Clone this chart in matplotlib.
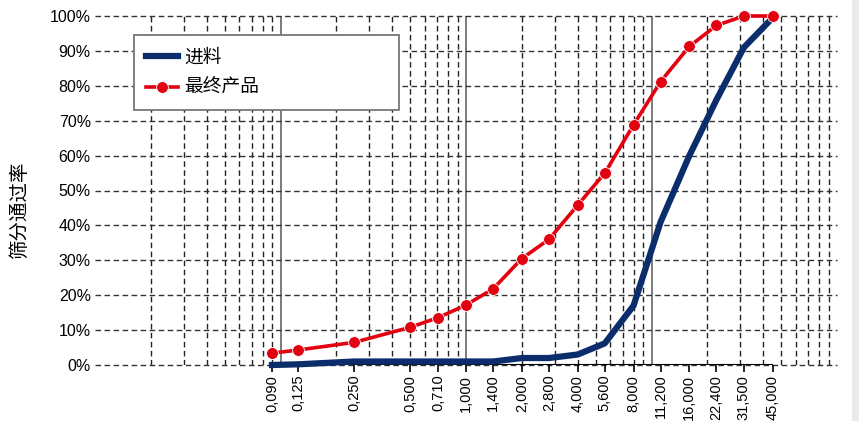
import numpy as np
import matplotlib
matplotlib.use('Agg')
import matplotlib.pyplot as plt
from matplotlib.patches import Rectangle

# 筛孔尺寸 (mm) 与累计通过率 (%)
sieve_sizes = [0.090, 0.125, 0.250, 0.500, 0.710, 1.000, 1.400, 2.000, 2.800,
               4.000, 5.600, 8.000, 11.200, 16.000, 22.400, 31.500, 45.000]
feed_pass = [0, 0.2, 1, 1, 1, 1, 1, 2, 2, 3, 6.2, 17, 41, 60, 76, 91, 99.5]
product_pass = [3.4, 4.3, 6.5, 10.8, 13.6, 17.2, 21.8, 30.5, 36.0,
                45.8, 55.0, 68.8, 81.2, 91.3, 97.3, 100, 100]
series_names = ['进料', '最终产品']
y_label = '筛分通过率'

cjk = ['Noto Sans CJK SC', 'DejaVu Sans']
narrow = ['Liberation Sans Narrow', 'Liberation Sans', 'DejaVu Sans']

fig = plt.figure(figsize=(8.59, 4.21), dpi=100)
fig.patches.append(Rectangle((852 / 859, 0), 7 / 859, 1, transform=fig.transFigure,
                             facecolor='#ebebeb', edgecolor='none'))
ax = fig.add_axes([95 / 859, 56 / 421, 742 / 859, 349 / 421])
ax.set_xscale('log')
ax.set_xlim(0.01, 100)
ax.set_ylim(0, 100)

# 对数网格：十进位实线，其余虚线
for dec in [0.01, 0.1, 1, 10]:
    for m in range(2, 10):
        ax.axvline(dec * m, color='#222222', lw=1, ls=(0, (4, 2.5)), zorder=1)
for dec in [0.1, 1, 10]:
    ax.axvline(dec, color='#666666', lw=1.2, zorder=1)
for yv in range(0, 101, 10):
    ax.axhline(yv, color='#333333', lw=1, ls=(0, (4, 2.5)), zorder=1, clip_on=False)

# 底部坐标轴只覆盖筛孔范围
ax.hlines(0, sieve_sizes[0], sieve_sizes[-1], color='black', lw=1.5, zorder=2)

ax.plot(sieve_sizes, feed_pass, color='#0c2d6b', lw=4.5, label=series_names[0],
        solid_joinstyle='round', zorder=4, clip_on=False)
ax.plot(sieve_sizes, product_pass, color='#e3000f', lw=2.6, marker='o', ms=8.5,
        mec='white', mew=0.6, label=series_names[1], zorder=5, clip_on=False)

for s in ['left', 'right', 'top', 'bottom']:
    ax.spines[s].set_visible(False)

ax.set_xticks(sieve_sizes)
ax.set_xticklabels([f'{v:.3f}'.replace('.', ',') for v in sieve_sizes],
                   rotation=90, fontsize=10.5, family=narrow)
ax.xaxis.set_minor_locator(matplotlib.ticker.NullLocator())
ax.tick_params(axis='x', length=5, width=1.2, pad=2, color='black')

ax.set_yticks(range(0, 101, 10))
ax.set_yticklabels([f'{v}%' for v in range(0, 101, 10)], fontsize=11.5, family=narrow)
ax.tick_params(axis='y', length=0, pad=3)

fig.text(20 / 859, 1 - 210 / 421, y_label, rotation=90, fontsize=14, family=cjk,
         ha='center', va='center')

leg = ax.legend(loc='upper left', bbox_to_anchor=(39 / 742, 327 / 349, 265 / 742, 0.01),
                mode='expand', prop={'family': cjk, 'size': 13.5}, fancybox=False,
                framealpha=1, edgecolor='#777777', handlelength=1.7, handletextpad=0.35,
                borderpad=0.65, labelspacing=0.5, borderaxespad=0)
leg.get_frame().set_linewidth(1.3)
leg.set_zorder(10)

fig.savefig('out.png', dpi=100)
